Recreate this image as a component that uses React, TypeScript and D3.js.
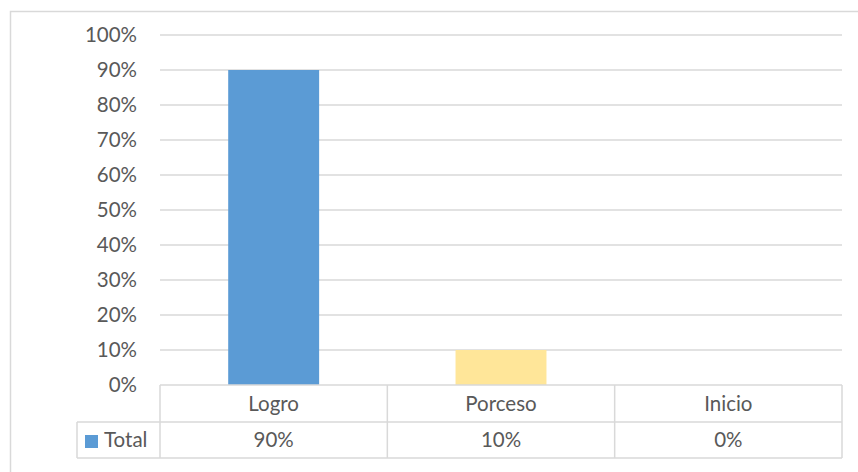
import React from "react";
import * as d3 from "d3";

const categories = ["Logro", "Porceso", "Inicio"];
const values = [0.9, 0.1, 0.0];
const valueLabels = ["90%", "10%", "0%"];
const barColors = ["#5B9BD5", "#FFE699", "#A5A5A5"];
const seriesName = "Total";
const yTicks = [0, 0.1, 0.2, 0.3, 0.4, 0.5, 0.6, 0.7, 0.8, 0.9, 1.0];

export default function App() {
  const W = 858, H = 472;
  const left = 160, right = 842, top = 35, bottom = 385;
  const rowH = 37;
  const legendLeft = 77;
  const font = "Lato, 'Noto Sans', sans-serif";
  const fs = 20.5;
  const textColor = "#595959";
  const grid = "#D9D9D9";

  const x = d3.scaleBand<string>().domain(categories).range([left, right]).paddingInner(0).paddingOuter(0);
  const y = d3.scaleLinear().domain([0, 1]).range([bottom, top]);
  const bw = x.bandwidth() * 0.4;
  const fmt = d3.format(".0%");

  const r1 = bottom, r2 = bottom + rowH, r3 = bottom + rowH * 2 - 1;

  return (
    <svg width={W} height={H} style={{ position: "absolute", left: 0, top: 0, background: "#fff" }}>
      <rect x={10.5} y={11.5} width={900} height={600} fill="#fff" stroke={grid} strokeWidth={1.5} />
      {yTicks.map((t) => (
        <g key={t}>
          {t > 0 && <line x1={left} x2={right} y1={y(t)} y2={y(t)} stroke={grid} strokeWidth={1.3} />}
          <text x={137} y={y(t)} dy="0.35em" textAnchor="end" fontFamily={font} fontSize={fs} fill={textColor}>
            {fmt(t)}
          </text>
        </g>
      ))}
      {categories.map((c, i) => (
        <rect key={c} x={x(c)! + (x.bandwidth() - bw) / 2} y={y(values[i])} width={bw} height={y(0) - y(values[i])} fill={barColors[i]} />
      ))}
      {/* data table */}
      <g stroke={grid} strokeWidth={1.5} fill="none">
        <line x1={left} x2={right} y1={r1} y2={r1} />
        <line x1={legendLeft} x2={right} y1={r2} y2={r2} />
        <line x1={legendLeft} x2={right} y1={r3} y2={r3} />
        <line x1={legendLeft} x2={legendLeft} y1={r2} y2={r3} />
        {categories.map((c) => (
          <line key={c} x1={x(c)!} x2={x(c)!} y1={r1} y2={r3} />
        ))}
        <line x1={right} x2={right} y1={r1} y2={r3} />
      </g>
      {categories.map((c, i) => (
        <g key={c}>
          <text x={x(c)! + x.bandwidth() / 2} y={(r1 + r2) / 2} dy="0.35em" textAnchor="middle" fontFamily={font} fontSize={fs} fill={textColor}>
            {c}
          </text>
          <text x={x(c)! + x.bandwidth() / 2} y={(r2 + r3) / 2} dy="0.35em" textAnchor="middle" fontFamily={font} fontSize={fs} fill={textColor}>
            {valueLabels[i]}
          </text>
        </g>
      ))}
      <rect x={85} y={435} width={13} height={13} fill={barColors[0]} />
      <text x={104} y={(r2 + r3) / 2} dy="0.35em" fontFamily={font} fontSize={fs} fill={textColor}>
        {seriesName}
      </text>
    </svg>
  );
}
